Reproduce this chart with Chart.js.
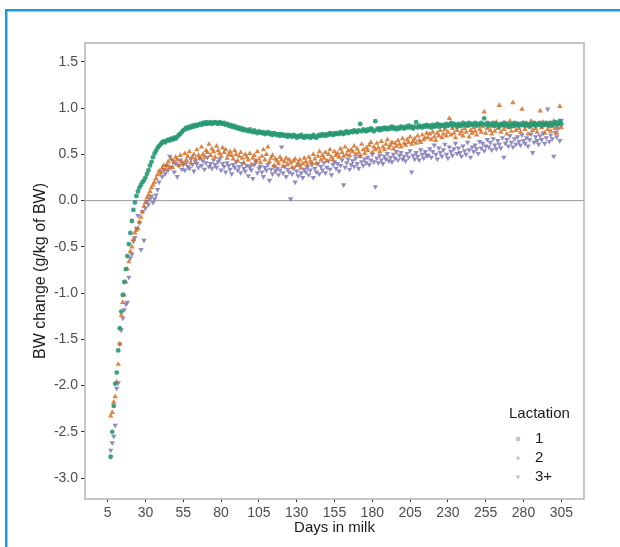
<!DOCTYPE html>
<html>
<head>
<meta charset="utf-8">
<script src="https://cdn.jsdelivr.net/npm/chart.js@4.4.1/dist/chart.umd.min.js"></script>
<style>
  html, body { margin: 0; padding: 0; background: #fff; }
  canvas { display: block; }
</style>
</head>
<body>
<canvas id="chart" width="620" height="547"></canvas>
<script>
// one value per day in milk, starting at firstDay
const firstDay = 7;

const lact1 = [
  -2.77, -2.50, -2.22, -1.98, -1.86, -1.62, -1.38, -1.20, -1.02, -0.88,
  -0.74, -0.60, -0.47, -0.35, -0.22, -0.10, -0.02, 0.05, 0.10, 0.14,
  0.17, 0.20, 0.22, 0.25, 0.29, 0.33, 0.38, 0.42, 0.47, 0.51,
  0.54, 0.57, 0.59, 0.61, 0.63, 0.64, 0.63, 0.65, 0.66, 0.65,
  0.67, 0.66, 0.68, 0.67, 0.69, 0.71, 0.72, 0.74, 0.76, 0.77,
  0.79, 0.78, 0.80, 0.79, 0.81, 0.80, 0.82, 0.81, 0.82, 0.83,
  0.82, 0.84, 0.83, 0.85, 0.83, 0.84, 0.85, 0.83, 0.84, 0.85,
  0.84, 0.83, 0.85, 0.84, 0.83, 0.84, 0.82, 0.83, 0.81, 0.82,
  0.80, 0.81, 0.79, 0.80, 0.78, 0.79, 0.77, 0.78, 0.76, 0.77,
  0.76, 0.75, 0.77, 0.75, 0.74, 0.76, 0.74, 0.73, 0.75, 0.74,
  0.73, 0.74, 0.72, 0.73, 0.74, 0.72, 0.73, 0.71, 0.73, 0.72,
  0.71, 0.72, 0.70, 0.72, 0.71, 0.70, 0.71, 0.69, 0.71, 0.70,
  0.69, 0.71, 0.70, 0.68, 0.70, 0.69, 0.71, 0.69, 0.68, 0.70,
  0.69, 0.70, 0.68, 0.69, 0.71, 0.69, 0.68, 0.70, 0.71, 0.70,
  0.72, 0.71, 0.70, 0.72, 0.71, 0.73, 0.72, 0.71, 0.73, 0.72,
  0.73, 0.72, 0.74, 0.73, 0.72, 0.74, 0.75, 0.73, 0.74, 0.75,
  0.74, 0.76, 0.75, 0.74, 0.76, 0.83, 0.75, 0.77, 0.76, 0.75,
  0.77, 0.76, 0.78, 0.77, 0.75, 0.86, 0.77, 0.78, 0.76, 0.78,
  0.77, 0.79, 0.78, 0.77, 0.79, 0.78, 0.80, 0.78, 0.79, 0.77,
  0.79, 0.78, 0.80, 0.79, 0.78, 0.80, 0.79, 0.81, 0.79, 0.80,
  0.78, 0.80, 0.85, 0.79, 0.81, 0.80, 0.79, 0.81, 0.80, 0.82,
  0.80, 0.81, 0.79, 0.82, 0.80, 0.81, 0.83, 0.80, 0.82, 0.81,
  0.82, 0.80, 0.83, 0.81, 0.82, 0.84, 0.81, 0.83, 0.82, 0.80,
  0.83, 0.82, 0.81, 0.84, 0.82, 0.83, 0.81, 0.84, 0.82, 0.83,
  0.82, 0.84, 0.81, 0.83, 0.82, 0.84, 0.83, 0.89, 0.82, 0.84,
  0.81, 0.83, 0.82, 0.84, 0.81, 0.83, 0.82, 0.80, 0.83, 0.82,
  0.84, 0.81, 0.83, 0.82, 0.80, 0.83, 0.81, 0.84, 0.82, 0.83,
  0.81, 0.83, 0.82, 0.84, 0.81, 0.83, 0.82, 0.80, 0.83, 0.82,
  0.84, 0.81, 0.83, 0.82, 0.84, 0.81, 0.83, 0.82, 0.84, 0.83,
  0.81, 0.84, 0.82, 0.83, 0.85, 0.82, 0.84, 0.86, 0.83
];

const lact2 = [
  -2.33, -2.29, -2.18, -2.12, -1.96, -1.77, -1.55, -1.24, -1.10, -1.02,
  -0.88, -0.74, -0.66, -0.55, -0.50, -0.42, -0.35, -0.32, -0.30, -0.23,
  -0.18, -0.12, -0.06, -0.02, 0.03, 0.06, 0.10, 0.14, 0.17, 0.20,
  0.24, 0.28, 0.32, 0.30, 0.35, 0.38, 0.33, 0.38, 0.42, 0.36,
  0.45, 0.36, 0.41, 0.47, 0.44, 0.38, 0.49, 0.42, 0.40, 0.51,
  0.44, 0.48, 0.53, 0.41, 0.47, 0.50, 0.45, 0.55, 0.49, 0.46,
  0.58, 0.50, 0.47, 0.54, 0.52, 0.61, 0.49, 0.56, 0.53, 0.47,
  0.59, 0.54, 0.51, 0.48, 0.57, 0.52, 0.55, 0.46, 0.50, 0.53,
  0.49, 0.45, 0.54, 0.50, 0.43, 0.48, 0.52, 0.46, 0.41, 0.50,
  0.47, 0.44, 0.51, 0.39, 0.46, 0.49, 0.43, 0.53, 0.45, 0.41,
  0.48, 0.55, 0.44, 0.50, 0.58, 0.42, 0.46, 0.49, 0.38, 0.45,
  0.43, 0.40, 0.47, 0.44, 0.37, 0.42, 0.46, 0.39, 0.44, 0.41,
  0.36, 0.43, 0.45, 0.38, 0.41, 0.44, 0.35, 0.40, 0.46, 0.42,
  0.39, 0.47, 0.43, 0.41, 0.50, 0.45, 0.40, 0.48, 0.53, 0.44,
  0.49, 0.46, 0.52, 0.43, 0.50, 0.55, 0.47, 0.44, 0.53, 0.49,
  0.51, 0.47, 0.56, 0.52, 0.48, 0.58, 0.50, 0.54, 0.49, 0.55,
  0.53, 0.59, 0.50, 0.56, 0.52, 0.48, 0.61, 0.55, 0.51, 0.57,
  0.54, 0.60, 0.63, 0.52, 0.58, 0.55, 0.62, 0.57, 0.53, 0.64,
  0.58, 0.55, 0.61, 0.66, 0.57, 0.60, 0.63, 0.56, 0.62, 0.59,
  0.65, 0.61, 0.58, 0.67, 0.62, 0.60, 0.66, 0.63, 0.69, 0.61,
  0.64, 0.67, 0.62, 0.70, 0.65, 0.63, 0.71, 0.66, 0.68, 0.73,
  0.68, 0.72, 0.66, 0.74, 0.69, 0.65, 0.73, 0.70, 0.76, 0.68,
  0.72, 0.77, 0.70, 0.74, 0.89, 0.71, 0.78, 0.73, 0.68, 0.76,
  0.80, 0.72, 0.75, 0.70, 0.78, 0.74, 0.81, 0.69, 0.76, 0.73,
  0.79, 0.75, 0.71, 0.82, 0.77, 0.74, 0.80, 0.96, 0.73, 0.78,
  0.83, 0.76, 0.72, 0.80, 0.75, 0.85, 0.78, 1.03, 0.74, 0.81,
  0.77, 0.84, 0.72, 0.79, 0.86, 0.75, 1.06, 0.80, 0.76, 0.83,
  0.78, 0.74, 0.99, 0.81, 0.77, 0.84, 0.72, 0.80, 0.86, 0.76,
  0.82, 0.78, 0.74, 0.83, 0.97, 0.79, 0.85, 0.73, 0.81, 0.77,
  0.84, 0.75, 0.80, 0.86, 0.78, 0.73, 0.82, 1.02, 0.79
];

const lact3 = [
  -2.70, -2.62, -2.55, -2.43, -2.03, -1.97, -1.55, -1.40, -1.27, -1.18,
  -1.12, -1.10, -0.83, -0.62, -0.58, -0.44, -0.40, -0.30, -0.16, -0.24,
  -0.53, -0.12, -0.43, -0.08, -0.01, -0.04, 0.02, 0.05, -0.02, 0.02,
  0.06, 0.12, 0.20, 0.31, 0.26, 0.34, 0.29, 0.38, 0.33, 0.48,
  0.36, 0.43, 0.31, 0.40, 0.26, 0.38, 0.44, 0.34, 0.39, 0.33,
  0.41, 0.37, 0.35, 0.45, 0.39, 0.32, 0.42, 0.40, 0.36, 0.46,
  0.38, 0.43, 0.34, 0.41, 0.47, 0.37, 0.40, 0.35, 0.44, 0.39,
  0.36, 0.42, 0.45, 0.33, 0.40, 0.37, 0.31, 0.41, 0.38, 0.34,
  0.29, 0.39, 0.36, 0.42, 0.33, 0.37, 0.30, 0.40, 0.35, 0.32,
  0.38, 0.27, 0.36, 0.33, 0.24, 0.39, 0.42, 0.30, 0.35, 0.37,
  0.31, 0.26, 0.36, 0.33, 0.39, 0.22, 0.34, 0.29, 0.37, 0.32,
  0.35, 0.28, 0.33, 0.58, 0.30, 0.37, 0.26, 0.34, 0.31, 0.02,
  0.29, 0.35, 0.20, 0.32, 0.27, 0.38, 0.30, 0.25, 0.34, 0.31,
  0.36, 0.28, 0.33, 0.39, 0.25, 0.35, 0.31, 0.40, 0.29, 0.37,
  0.33, 0.41, 0.30, 0.36, 0.43, 0.34, 0.28, 0.39, 0.42, 0.35,
  0.40, 0.32, 0.38, 0.44, 0.17, 0.36, 0.41, 0.45, 0.34, 0.39,
  0.43, 0.37, 0.46, 0.40, 0.35, 0.48, 0.42, 0.38, 0.45, 0.41,
  0.47, 0.39, 0.44, 0.50, 0.42, 0.15, 0.46, 0.41, 0.49, 0.44,
  0.40, 0.48, 0.45, 0.51, 0.43, 0.47, 0.42, 0.50, 0.46, 0.53,
  0.44, 0.49, 0.52, 0.45, 0.48, 0.43, 0.51, 0.47, 0.54, 0.31,
  0.49, 0.45, 0.52, 0.48, 0.44, 0.55, 0.50, 0.46, 0.53, 0.49,
  0.49, 0.56, 0.47, 0.53, 0.60, 0.50, 0.45, 0.57, 0.52, 0.48,
  0.55, 0.61, 0.50, 0.46, 0.58, 0.53, 0.49, 0.56, 0.62, 0.51,
  0.57, 0.52, 0.48, 0.59, 0.54, 0.50, 0.63, 0.55, 0.47, 0.58,
  0.53, 0.60, 0.56, 0.51, 0.64, 0.57, 0.62, 0.54, 0.59, 0.66,
  0.58, 0.63, 0.55, 0.67, 0.60, 0.56, 0.65, 0.61, 0.57, 0.68,
  0.47, 0.62, 0.66, 0.59, 0.70, 0.63, 0.58, 0.67, 0.61, 0.69,
  0.64, 0.60, 0.71, 0.65, 0.62, 0.68, 0.59, 0.66, 0.72, 0.52,
  0.63, 0.69, 0.65, 0.61, 0.70, 0.66, 0.73, 0.62, 0.68, 0.99,
  0.64, 0.71, 0.67, 0.48, 0.74, 0.69, 0.78, 0.65, 0.87
];

const groups = ["1", "2", "3+"];
const xTicks = [5, 30, 55, 80, 105, 130, 155, 180, 205, 230, 255, 280, 305];
const yTicks = [-3.0, -2.5, -2.0, -1.5, -1.0, -0.5, 0.0, 0.5, 1.0, 1.5];

const FONT = "'Liberation Sans', Arial, sans-serif";

function toPoints(values) {
  return values.map((v, i) => ({ x: firstDay + i, y: v }));
}

// page frame, zero line, panel border and the inside legend
const decor = {
  id: "decor",
  beforeDraw(chart) {
    const ctx = chart.ctx;
    ctx.save();
    ctx.fillStyle = "#1e9ade";
    ctx.fillRect(5, 9, 620, 2.5);
    ctx.fillRect(5, 9, 2.5, 547);
    ctx.restore();
  },
  beforeDatasetsDraw(chart) {
    const { ctx, chartArea: a, scales } = chart;
    const y0 = scales.y.getPixelForValue(0);
    ctx.save();
    ctx.strokeStyle = "#9a9a9a";
    ctx.lineWidth = 1;
    ctx.beginPath();
    ctx.moveTo(a.left, y0);
    ctx.lineTo(a.right, y0);
    ctx.stroke();
    ctx.restore();
  },
  afterDraw(chart) {
    const { ctx, chartArea: a } = chart;
    ctx.save();
    ctx.strokeStyle = "#b4b4b4";
    ctx.lineWidth = 1.5;
    ctx.strokeRect(a.left, a.top, a.right - a.left, a.bottom - a.top);

    ctx.fillStyle = "#1a1a1a";
    ctx.font = "15px " + FONT;
    ctx.textBaseline = "middle";
    ctx.textAlign = "left";
    ctx.fillText("Lactation", 509, 414);

    const rows = [439, 458, 477];
    chart.data.datasets.forEach((ds, i) => {
      ctx.fillStyle = "#c4c4c4";
      Chart.helpers.drawPoint(ctx, {
        pointStyle: ds.pointStyle,
        radius: 2.3,
        rotation: ds.pointRotation || 0,
        borderWidth: 0
      }, 518, rows[i]);
      ctx.fill();
      ctx.fillStyle = "#1a1a1a";
      ctx.fillText(ds.label, 535, rows[i]);
    });
    ctx.restore();
  }
};

new Chart(document.getElementById("chart"), {
  type: "scatter",
  data: {
    datasets: [
      {
        label: groups[0],
        data: toPoints(lact1),
        pointStyle: "circle",
        pointRadius: 2.4,
        backgroundColor: "rgba(40,152,116,0.9)",
        borderWidth: 0
      },
      {
        label: groups[1],
        data: toPoints(lact2),
        pointStyle: "triangle",
        pointRadius: 3.1,
        backgroundColor: "rgba(214,110,36,0.85)",
        borderWidth: 0
      },
      {
        label: groups[2],
        data: toPoints(lact3),
        pointStyle: "triangle",
        pointRotation: 180,
        pointRadius: 3.1,
        backgroundColor: "rgba(125,119,182,0.85)",
        borderWidth: 0
      }
    ]
  },
  options: {
    responsive: false,
    animation: false,
    devicePixelRatio: 1,
    layout: { padding: { left: 0, top: 43, right: 36, bottom: 0 } },
    plugins: { legend: { display: false }, tooltip: { enabled: false } },
    scales: {
      x: {
        type: "linear",
        min: -10,
        max: 320,
        afterFit: (s) => { s.height = 48; },
        afterBuildTicks: (s) => { s.ticks = xTicks.map((v) => ({ value: v })); },
        grid: { drawOnChartArea: false, drawTicks: true, tickLength: 3, color: "#333" },
        border: { display: false },
        ticks: { color: "#4d4d4d", font: { family: FONT, size: 14 }, padding: 3, maxRotation: 0 },
        title: {
          display: true,
          text: "Days in milk",
          color: "#1a1a1a",
          font: { family: FONT, size: 15 },
          padding: { top: 0, bottom: 10 }
        }
      },
      y: {
        type: "linear",
        min: -3.227,
        max: 1.705,
        afterFit: (s) => { s.width = 85; },
        afterBuildTicks: (s) => { s.ticks = yTicks.map((v) => ({ value: v })); },
        grid: { drawOnChartArea: false, drawTicks: true, tickLength: 4, color: "#333" },
        border: { display: false },
        ticks: {
          color: "#4d4d4d",
          font: { family: FONT, size: 14 },
          padding: 3,
          callback: (v) => v.toFixed(1)
        },
        title: {
          display: true,
          text: "BW change (g/kg of BW)",
          color: "#1a1a1a",
          font: { family: FONT, size: 16 },
          padding: { top: 31, bottom: 0 }
        }
      }
    }
  },
  plugins: [decor]
});
</script>
</body>
</html>
